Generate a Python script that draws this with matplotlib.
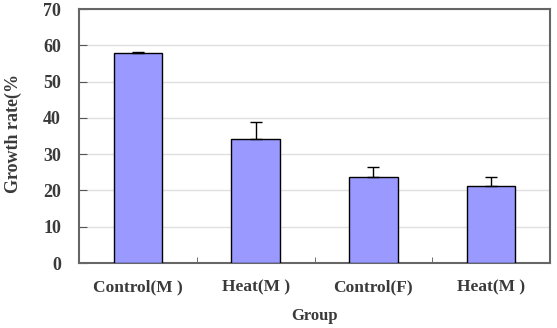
import numpy as np
import matplotlib
matplotlib.use('Agg')
from matplotlib import pyplot as plt
from matplotlib.ticker import MultipleLocator, FixedLocator

plt.rcParams['font.family'] = ['Liberation Serif', 'DejaVu Serif']
plt.rcParams['font.weight'] = 'bold'

groups = ['Control(M )', 'Heat(M )', 'Control(F)', 'Heat(M )']
growth = [57.8, 34.3, 23.6, 21.2]
errors = [0.4, 4.6, 2.9, 2.6]

fig = plt.figure(figsize=(5.57, 3.28), dpi=100)
ax = fig.add_axes([79 / 557, 1 - 263 / 328, 471 / 557, 254 / 328])

x = np.arange(len(groups))
ax.bar(x, growth, width=0.41, color='#9999FF', edgecolor='black', linewidth=1.0, zorder=3)
ax.errorbar(x, growth, yerr=[np.zeros(len(errors)), errors], fmt='none',
            ecolor='black', elinewidth=1.0, capsize=4, capthick=1.0, zorder=4)

ax.set_xlim(-0.5, 3.5)
ax.set_ylim(0, 70)
ax.yaxis.set_major_locator(MultipleLocator(10))
ax.grid(axis='y', color='#e0e0e0', linewidth=1.0, zorder=0)

ax.set_xticks(x)
ax.set_xticklabels(groups, fontsize=12.5, fontweight='bold', color='#3a3a3a')
ax.tick_params(axis='x', which='major', length=0, pad=12)
ax.xaxis.set_minor_locator(FixedLocator([0.5, 1.5, 2.5]))
ax.tick_params(axis='x', which='minor', direction='in', length=4, color='#555555')
ax.tick_params(axis='y', direction='in', length=6, color='#555555', labelsize=13,
               labelcolor='#3a3a3a', pad=13)
for lab in ax.get_yticklabels():
    lab.set_fontweight('bold')

for sp in ax.spines.values():
    sp.set_color('#666666')
    sp.set_linewidth(1.5)

ax.set_ylabel('Growth rate(%', fontsize=13, fontweight='bold', color='#3a3a3a')
ax.yaxis.set_label_coords(-0.122, 0.51)
ax.set_xlabel('Group', fontsize=12, fontweight='bold', color='#3a3a3a', labelpad=9)

plt.savefig('out.png', dpi=100)
